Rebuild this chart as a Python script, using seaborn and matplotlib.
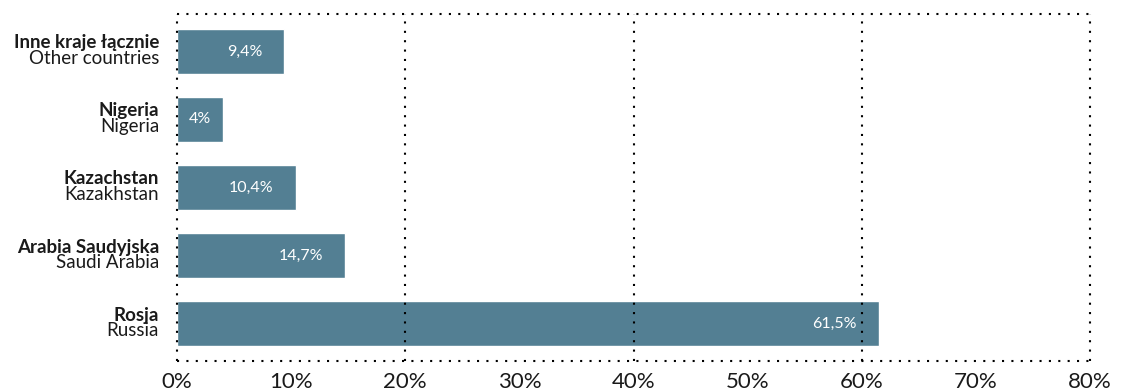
import matplotlib
matplotlib.use("Agg")
import matplotlib.pyplot as plt
import matplotlib.transforms as mtransforms
import seaborn as sns
import pandas as pd

# Data
names_pl = ["Inne kraje łącznie", "Nigeria", "Kazachstan", "Arabia Saudyjska", "Rosja"]
names_en = ["Other countries", "Nigeria", "Kazakhstan", "Saudi Arabia", "Russia"]
shares = [9.4, 4.0, 10.4, 14.7, 61.5]
share_labels = ["9,4%", "4%", "10,4%", "14,7%", "61,5%"]
x_ticks = [0, 10, 20, 30, 40, 50, 60, 70, 80]
x_tick_labels = ["0%", "10%", "20%", "30%", "40%", "50%", "60%", "70%", "80%"]
grid_at = [20, 40, 60]

bar_color = "#537f93"
font = ["Lato", "DejaVu Sans"]

sns.set_theme(style="white")
plt.rcParams["font.family"] = font

df = pd.DataFrame({"country": names_pl, "share": shares})

fig = plt.figure(figsize=(11.21, 3.92), dpi=100)
ax = fig.add_axes([177 / 1121, 1 - 361 / 392, (1090 - 177) / 1121, (361 - 14) / 392])

sns.barplot(data=df, x="share", y="country", orient="h", color=bar_color,
            saturation=1, width=0.65, ax=ax, order=names_pl)

ax.set_xlim(0, 80)
ax.set_ylim(4.55, -0.55)

dotted = (0, (1, 3.5))
for s in ax.spines.values():
    s.set_visible(True)
    s.set_color("black")
    s.set_linewidth(1.5)
    s.set_linestyle(dotted)
    s.set_capstyle("butt")

for g in grid_at:
    ax.axvline(g, color="black", linewidth=1.5, linestyle=dotted, zorder=3,
               dash_capstyle="butt")

ax.set_xticks(x_ticks)
ax.set_xticklabels(x_tick_labels, fontsize=16, color="#1a1a1a")
ax.tick_params(axis="x", length=0, pad=8)
ax.set_yticks([])
ax.set_xlabel("")
ax.set_ylabel("")

# Two-line category labels: Polish name in bold, English name below
lbl_tf = mtransforms.blended_transform_factory(ax.transAxes, ax.transData)
lbl_off = mtransforms.ScaledTranslation(-18 / 100, 0, fig.dpi_scale_trans)
for i, (pl, en) in enumerate(zip(names_pl, names_en)):
    ax.text(0, i, pl, transform=lbl_tf + lbl_off, ha="right", va="bottom",
            fontsize=13.5, fontweight="bold", color="#1a1a1a")
    ax.text(0, i - 0.02, en, transform=lbl_tf + lbl_off, ha="right", va="top",
            fontsize=13.5, color="#1a1a1a")

# Value labels inside bars
val_off = mtransforms.ScaledTranslation(-22 / 100, 0, fig.dpi_scale_trans)
for i, (v, t) in enumerate(zip(shares, share_labels)):
    if v < 6:
        ax.text(v / 2, i, t, ha="center", va="center", fontsize=11.5,
                color="white", zorder=4)
    else:
        ax.text(v, i, t, transform=ax.transData + val_off, ha="right",
                va="center", fontsize=11.5, color="white", zorder=4)

fig.savefig("out.png", dpi=100)
